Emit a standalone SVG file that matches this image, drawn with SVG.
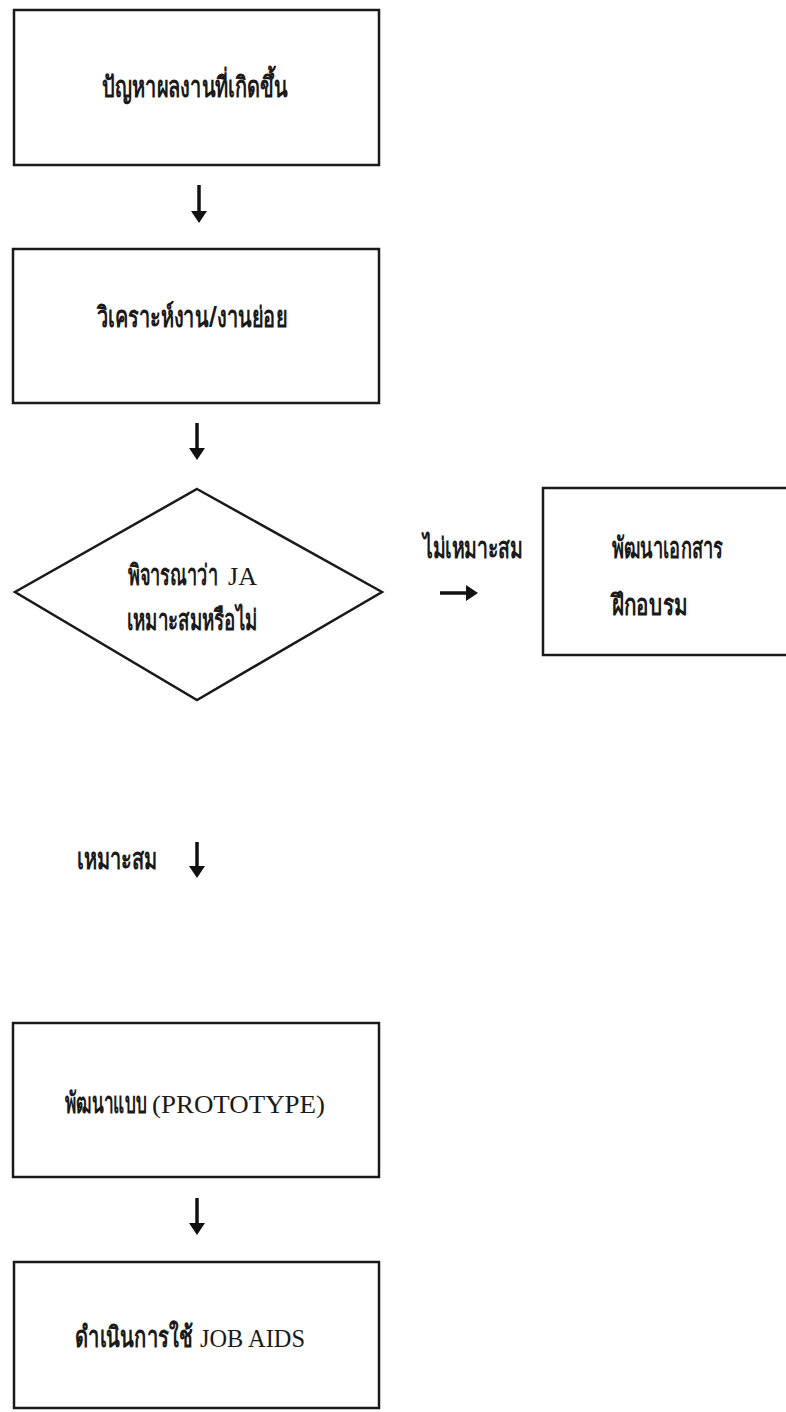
<svg xmlns="http://www.w3.org/2000/svg" width="786" height="1412" viewBox="0 0 786 1412">
<style>
.box{fill:#fff;stroke:#1a1a1a;stroke-width:2.5}
.th{font-family:"Noto Sans","DejaVu Sans",sans-serif;font-weight:bold;font-size:29px;fill:#1a1a1a}
.en{font-family:"Liberation Serif","Times New Roman",serif;font-size:26px;fill:#1a1a1a}
.arr{stroke:#111;stroke-width:3.5;fill:none}
</style>
<defs>
<marker id="ah" viewBox="0 0 12 16" refX="1" refY="8" markerWidth="12" markerHeight="16" markerUnits="userSpaceOnUse" orient="auto">
<path d="M0,0 L12,8 L0,16 Z" fill="#111"/>
</marker>
</defs>
<rect width="786" height="1412" fill="#fff"/>
<g id="n1">
<rect class="box" x="14" y="10" width="365" height="155"/>
<text class="th" transform="translate(102,97) scale(0.65,1)" textLength="286.2" lengthAdjust="spacingAndGlyphs">ปัญหาผลงานที่เกิดขึ้น</text>
</g>
<g id="n2">
<rect class="box" x="13" y="249" width="366" height="154"/>
<text class="th" transform="translate(97,327) scale(0.65,1)" textLength="292.3" lengthAdjust="spacingAndGlyphs">วิเคราะห์งาน/งานย่อย</text>
</g>
<g id="n3">
<polygon class="box" points="197,489 382,592 197,700 15,592"/>
<text class="th" transform="translate(128,585) scale(0.65,1)" textLength="138.5" lengthAdjust="spacingAndGlyphs">พิจารณาว่า</text>
<text class="en" x="228" y="585" textLength="29" lengthAdjust="spacingAndGlyphs">JA</text>
<text class="th" transform="translate(127,630) scale(0.65,1)" textLength="200" lengthAdjust="spacingAndGlyphs">เหมาะสมหรือไม่</text>
</g>
<g id="n4">
<rect class="box" x="543" y="488" width="250" height="167"/>
<text class="th" transform="translate(612,558) scale(0.65,1)" textLength="170.8" lengthAdjust="spacingAndGlyphs">พัฒนาเอกสาร</text>
<text class="th" transform="translate(612,615) scale(0.65,1)" textLength="115.4" lengthAdjust="spacingAndGlyphs">ฝึกอบรม</text>
</g>
<g id="n5">
<rect class="box" x="13" y="1023" width="366" height="154"/>
<text class="th" transform="translate(65,1113) scale(0.65,1)" textLength="126.2" lengthAdjust="spacingAndGlyphs">พัฒนาแบบ</text>
<text class="en" x="152" y="1113" textLength="173" lengthAdjust="spacingAndGlyphs">(PROTOTYPE)</text>
</g>
<g id="n6">
<rect class="box" x="14" y="1262" width="365" height="146"/>
<text class="th" transform="translate(75,1347) scale(0.65,1)" textLength="181.5" lengthAdjust="spacingAndGlyphs">ดำเนินการใช้</text>
<text class="en" x="200" y="1347" textLength="105" lengthAdjust="spacingAndGlyphs">JOB AIDS</text>
</g>
<g id="connectors">
<line class="arr" x1="199" y1="185" x2="199" y2="212" marker-end="url(#ah)"/>
<line class="arr" x1="197" y1="423" x2="197" y2="449" marker-end="url(#ah)"/>
<line class="arr" x1="440" y1="593" x2="467" y2="593" marker-end="url(#ah)"/>
<text class="th" transform="translate(423,558) scale(0.65,1)" textLength="153.8" lengthAdjust="spacingAndGlyphs">ไม่เหมาะสม</text>
<line class="arr" x1="197" y1="842" x2="197" y2="867" marker-end="url(#ah)"/>
<text class="th" transform="translate(77,869) scale(0.65,1)" textLength="123.1" lengthAdjust="spacingAndGlyphs">เหมาะสม</text>
<line class="arr" x1="197" y1="1198" x2="197" y2="1224" marker-end="url(#ah)"/>
</g>
</svg>
